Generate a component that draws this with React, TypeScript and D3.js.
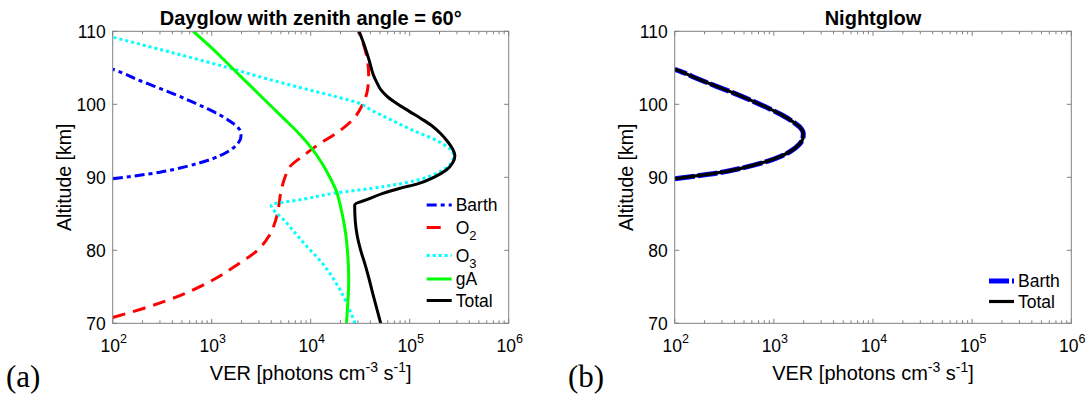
import React from "react";
import * as d3 from "d3";

// ---------- Data (altitude km, VER photons cm^-3 s^-1) ----------
const barthAlt = [89.8, 90.7, 91.5, 92.5, 93.5, 94.5, 95.3, 96.0, 96.8, 97.6, 98.5, 99.4, 100.4, 101.5, 102.5, 103.5, 104.3, 104.8];
const barthVer = [100, 300, 560, 1000, 1450, 1800, 1960, 1980, 1850, 1560, 1220, 900, 620, 400, 260, 170, 125, 100];

const o2Alt = [70.8, 72, 74, 76, 78, 80, 82, 84, 86, 88, 90, 91.5, 93, 94.5, 96, 98, 100, 102, 104, 106, 108, 110];
const o2Ver = [100, 200, 520, 1050, 1800, 2900, 3800, 4400, 4750, 5000, 5500, 6200, 8500, 12000, 18000, 27000, 33500, 37500, 38500, 37500, 34500, 30500];

const o3Alt = [70, 72, 75, 78, 81, 84, 86.2, 87, 87.8, 88.7, 89.5, 90.3, 91.2, 92.2, 92.9, 93.8, 95, 96.5, 98, 99.2, 100.1, 101, 102, 103.5, 105.1, 107, 109.2];
const o3Ver = [28000, 24500, 19000, 13500, 8500, 5500, 4000, 8500, 17000, 53500, 110000, 170000, 230000, 268000, 278000, 258000, 190000, 105000, 62000, 41000, 31500, 18500, 9500, 3600, 1400, 420, 100];

const gaAlt = [70, 72, 74, 76, 78, 80, 82, 84, 86, 88, 90, 92, 94, 96, 98, 100, 102, 104, 106, 108, 110];
const gaVer = [23000, 23500, 24000, 24200, 24000, 23500, 22700, 21500, 20000, 18300, 15600, 12900, 10200, 7600, 5400, 3800, 2700, 1900, 1350, 950, 650];

const totAlt = [70, 72, 74, 76, 78, 80, 82, 84, 86.2, 87, 87.8, 88.5, 89.1, 90, 91, 92, 93, 94, 95, 96, 97, 98, 99, 100, 101, 102, 103, 104, 106, 108, 110];
const totVer = [51000, 46500, 42500, 39000, 35500, 32000, 29500, 28200, 27800, 38000, 53500, 80000, 120000, 175000, 234000, 272000, 286000, 268000, 238000, 205000, 170000, 132000, 100000, 76000, 60000, 51000, 46500, 43000, 39000, 35000, 30800];

const nightBarthAlt = barthAlt;
const nightBarthVer = barthVer;
const nightTotAlt = barthAlt;
const nightTotVer = barthVer;

const xTickExps = [2, 3, 4, 5, 6];
const yTicks = [70, 80, 90, 100, 110];

const leftTitle = "Dayglow with zenith angle = 60°";
const rightTitle = "Nightglow";

// ---------- Layout ----------
const W = 1090;
const H = 397;
const top = 31.3;
const bottom = 323.3;
const FONT = "'Liberation Sans', Arial, Helvetica, sans-serif";
const AXIS_COLOR = "#808080";

type Series = {
  alt: number[];
  ver: number[];
  color: string;
  width: number;
  dash?: string;
  cap?: string;
};

function Panel(props: {
  x0: number;
  x1: number;
  title: string;
  series: Series[];
  clipId: string;
  letter: string;
  letterX: number;
  legend: { label: React.ReactNode; s: Series; y: number }[];
  legendX: number;
}) {
  const { x0, x1, title, series, clipId, letter, letterX, legend, legendX } = props;
  const x = d3.scaleLog().domain([1e2, 1e6]).range([x0, x1]);
  const y = d3.scaleLinear().domain([70, 110]).range([bottom, top]);
  const line = d3
    .line<[number, number]>()
    .x((d) => x(d[1]))
    .y((d) => y(d[0]))
    .curve(d3.curveMonotoneY);

  const minor: number[] = [];
  for (let e = 2; e < 6; e++) for (let k = 2; k <= 9; k++) minor.push(k * Math.pow(10, e));
  const tl = 4.5;
  const cx = (x0 + x1) / 2;

  return (
    <g>
      <defs>
        <clipPath id={clipId}>
          <rect x={x0} y={top} width={x1 - x0} height={bottom - top} />
        </clipPath>
      </defs>
      <g stroke={AXIS_COLOR} strokeWidth={1}>
        {minor.map((v) => (
          <g key={"m" + v}>
            <line x1={x(v)} x2={x(v)} y1={bottom} y2={bottom - 3} />
            <line x1={x(v)} x2={x(v)} y1={top} y2={top + 3} />
          </g>
        ))}
        {xTickExps.map((e) => (
          <g key={"M" + e}>
            <line x1={x(Math.pow(10, e))} x2={x(Math.pow(10, e))} y1={bottom} y2={bottom - tl} />
            <line x1={x(Math.pow(10, e))} x2={x(Math.pow(10, e))} y1={top} y2={top + tl} />
          </g>
        ))}
        {yTicks.map((t) => (
          <g key={"y" + t}>
            <line x1={x0} x2={x0 + tl} y1={y(t)} y2={y(t)} />
            <line x1={x1} x2={x1 - tl} y1={y(t)} y2={y(t)} />
          </g>
        ))}
      </g>
      <g clipPath={`url(#${clipId})`} fill="none">
        {series.map((s, i) => (
          <path
            key={i}
            d={line(s.alt.map((a, j) => [a, s.ver[j]] as [number, number])) || ""}
            stroke={s.color}
            strokeWidth={s.width}
            strokeDasharray={s.dash}
            strokeLinecap={(s.cap as any) || "butt"}
            strokeLinejoin="round"
          />
        ))}
      </g>
      <rect x={x0} y={top} width={x1 - x0} height={bottom - top} fill="none" stroke={AXIS_COLOR} strokeWidth={1} />
      <g fontFamily={FONT} fontSize={17.5} fill="#000">
        {xTickExps.map((e) => (
          <text key={"xl" + e} x={x(Math.pow(10, e)) + 1} y={352} textAnchor="middle">
            10
            <tspan fontSize={12.5} dy={-9}>
              {e}
            </tspan>
          </text>
        ))}
        {yTicks.map((t) => (
          <text key={"yl" + t} x={x0 - 7} y={y(t)} dy="0.36em" textAnchor="end">
            {t}
          </text>
        ))}
      </g>
      <text x={cx} y={24.5} textAnchor="middle" fontFamily={FONT} fontWeight="bold" fontSize={20} fill="#000">
        {title}
      </text>
      <text x={cx} y={380} textAnchor="middle" fontFamily={FONT} fontSize={20} fill="#000">
        VER [photons cm
        <tspan fontSize={14} dy={-8}>-3</tspan>
        <tspan dy={8}> s</tspan>
        <tspan fontSize={14} dy={-8}>-1</tspan>
        <tspan dy={8}>]</tspan>
      </text>
      <text
        transform={`translate(${x0 - 49},${(top + bottom) / 2}) rotate(-90)`}
        textAnchor="middle"
        dy="0.36em"
        fontFamily={FONT}
        fontSize={19.5}
        fill="#000"
      >
        Altitude [km]
      </text>
      <text x={letterX} y={387} fontFamily="'Liberation Serif', 'DejaVu Serif', serif" fontSize={31} fill="#000">
        {letter}
      </text>
      <g>
        {legend.map((it, i) => (
          <g key={"lg" + i}>
            <line
              x1={legendX}
              x2={legendX + 25}
              y1={it.y}
              y2={it.y}
              stroke={it.s.color}
              strokeWidth={it.s.width}
              strokeDasharray={it.s.dash}
              strokeLinecap={(it.s.cap as any) || "butt"}
            />
            <text x={legendX + 29} y={it.y} dy="0.36em" fontFamily={FONT} fontSize={17.5} fill="#000">
              {it.label}
            </text>
          </g>
        ))}
      </g>
    </g>
  );
}

export default function App() {
  const barth: Series = { alt: barthAlt, ver: barthVer, color: "#0000ff", width: 3, dash: "10,4,4,4" };
  const o2: Series = { alt: o2Alt, ver: o2Ver, color: "#ff0000", width: 3, dash: "13,8" };
  const o3: Series = { alt: o3Alt, ver: o3Ver, color: "#00ffff", width: 3, dash: "3,3" };
  const ga: Series = { alt: gaAlt, ver: gaVer, color: "#00ff00", width: 3 };
  const tot: Series = { alt: totAlt, ver: totVer, color: "#000000", width: 3 };

  const nBarth: Series = { alt: nightBarthAlt, ver: nightBarthVer, color: "#0000ff", width: 5, dash: "20,3" };
  const nTot: Series = { alt: nightTotAlt, ver: nightTotVer, color: "#000000", width: 3.2 };

  const sub = (base: string, s: string) => (
    <>
      {base}
      <tspan fontSize={13} dy={6}>
        {s}
      </tspan>
    </>
  );

  return (
    <svg
      width={W}
      height={H}
      viewBox={`0 0 ${W} ${H}`}
      style={{ position: "absolute", left: 0, top: 0, background: "#fff" }}
    >
      <rect x={0} y={0} width={W} height={H} fill="#fff" />
      <Panel
        x0={112.7}
        x1={508.7}
        title={leftTitle}
        series={[barth, o2, o3, ga, tot]}
        clipId="clipL"
        letter="(a)"
        letterX={6}
        legendX={426.7}
        legend={[
          { label: "Barth", s: barth, y: 205 },
          { label: sub("O", "2"), s: { ...o2, dash: "14,30" }, y: 227.5 },
          { label: sub("O", "3"), s: o3, y: 255.5 },
          { label: "gA", s: ga, y: 279 },
          { label: "Total", s: tot, y: 300.5 },
        ]}
      />
      <Panel
        x0={674.7}
        x1={1071.3}
        title={rightTitle}
        series={[nBarth, nTot]}
        clipId="clipR"
        letter="(b)"
        letterX={568}
        legendX={989}
        legend={[
          { label: "Barth", s: nBarth, y: 281 },
          { label: "Total", s: nTot, y: 301.5 },
        ]}
      />
    </svg>
  );
}
